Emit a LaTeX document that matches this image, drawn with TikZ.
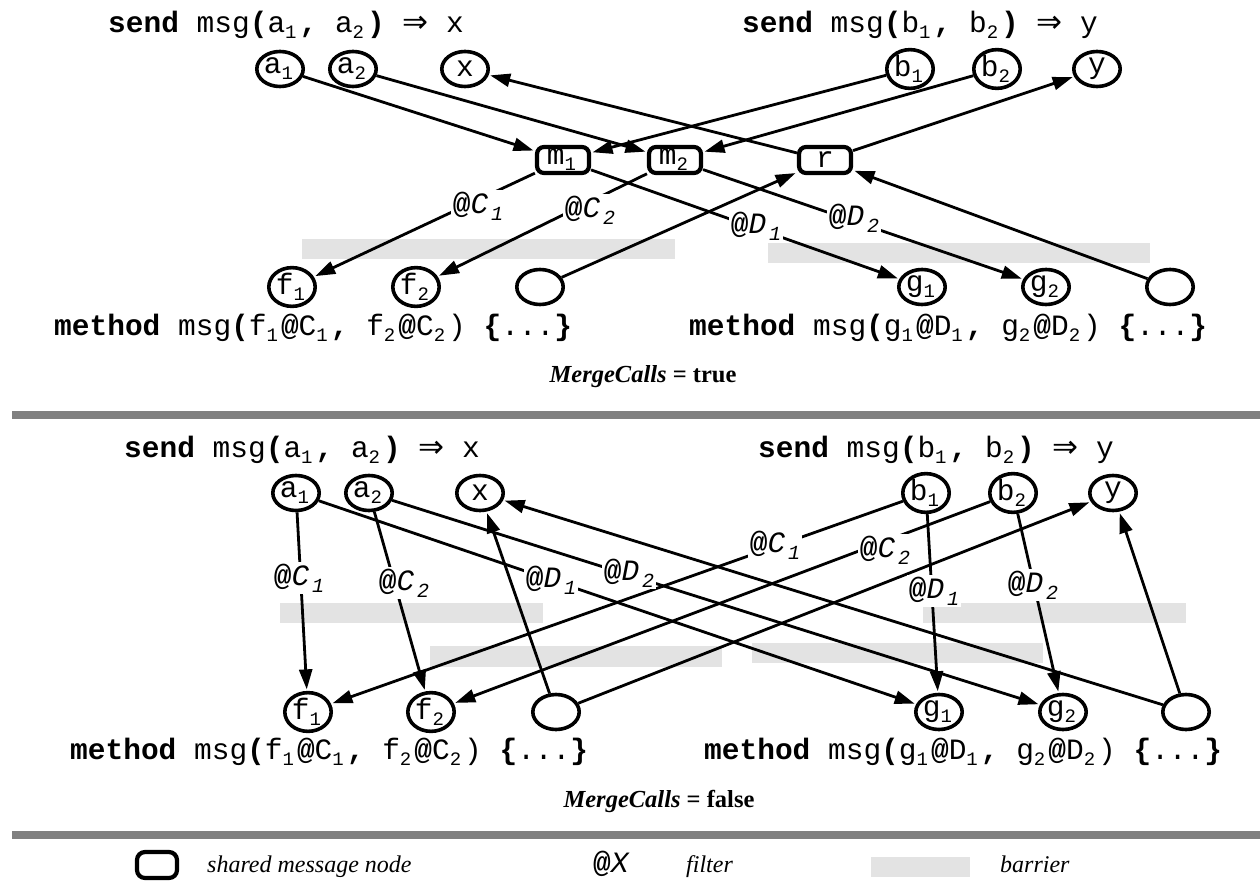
\documentclass[tikz,border=0pt]{standalone}
\usepackage{fontspec}
\setmainfont{Liberation Serif}
\newfontfamily\codefont{Liberation Mono}
\newfontfamily\symfont{DejaVu Sans}
\usetikzlibrary{arrows.meta,shapes.geometric}

% lowered, smaller index in the current font
\newcommand\sbs[1]{\raisebox{-6pt}{\fontsize{19}{19}\selectfont #1}\kern3pt}
\newcommand\code{\fontsize{29.5}{34}\selectfont\codefont}
\newcommand\yields{{\symfont\fontsize{31}{34}\selectfont ⇒}}
\newcommand\filter[2]{{\bfseries @}{\itshape #1\hspace{3pt}\raisebox{-7pt}{\fontsize{20}{20}\selectfont #2}}}

\tikzset{
  port/.style={ellipse, draw, line width=3.6pt, minimum width=46.4pt,
    minimum height=35pt, inner sep=0pt, font=\code},
  shared/.style={rectangle, rounded corners=7pt, draw, line width=4.2pt,
    minimum width=52pt, minimum height=26pt, inner sep=0pt, font=\code},
  wire/.style={line width=2.8pt},
  arr/.style={wire, shorten >=1.5pt, -{Triangle[length=20pt,width=13pt]}},
  filt/.style={font=\code, fill=white, inner sep=1.5pt},
  barrierfill/.style={fill=black!11},
  sepbar/.style={fill=black!50},
  sig/.style={font=\code, anchor=base west, inner sep=0pt},
  caption/.style={font=\fontsize{24.5}{28}\selectfont, anchor=base, inner sep=0pt},
  keytext/.style={font=\fontsize{24}{28}\selectfont\itshape, anchor=base west, inner sep=0pt},
}

\begin{document}
\begin{tikzpicture}[x=1pt,y=-1pt]
\useasboundingbox (0,0) rectangle (1260,882);

% ---------- separators ----------
\fill[sepbar] (12,411) rectangle (1260,419);
\fill[sepbar] (12,831) rectangle (1260,839);

% ---------- barriers ----------
\fill[barrierfill] (302,239) rectangle (675,259);
\fill[barrierfill] (768,243) rectangle (1150,263);
\fill[barrierfill] (280,603) rectangle (543,623);
\fill[barrierfill] (430,646) rectangle (722,667);
\fill[barrierfill] (923,603) rectangle (1186,623);
\fill[barrierfill] (752,643) rectangle (1043,663);

% ================= MergeCalls = true =================
\node[sig] (tsendA) at (108,33) {{\bfseries send} msg{\bfseries (}a\sbs{1}{\bfseries ,} a\sbs{2}{\bfseries )} \yields{} x};
\node[sig] (tsendB) at (742,33) {{\bfseries send} msg{\bfseries (}b\sbs{1}{\bfseries ,} b\sbs{2}{\bfseries )} \yields{} y};

\node[port] (ta1) at (280,69) {a\sbs{1}};
\node[port] (ta2) at (353,69) {a\sbs{2}};
\node[port] (tx)  at (465,69) {x};
\node[port] (tb1) at (910,69) {b\sbs{1}};
\node[port] (tb2) at (997,69) {b\sbs{2}};
\node[port] (ty)  at (1097,69) {y};

\node[shared] (tm1) at (563,160) {m\sbs{1}};
\node[shared] (tm2) at (675,160) {m\sbs{2}};
\node[shared] (tr)  at (825,160) {r};

\node[port] (tf1) at (292,287) {f\sbs{1}};
\node[port] (tf2) at (416,287) {f\sbs{2}};
\node[port] (tu)  at (540,287) {};
\node[port] (tg1) at (922,287) {g\sbs{1}};
\node[port] (tg2) at (1046,287) {g\sbs{2}};
\node[port] (tv)  at (1170,287) {};

\node[sig] (tmethA) at (54,335) {{\bfseries method} msg{\bfseries (}f\sbs{1}{\bfseries @}C\sbs{1}{\bfseries ,} f\sbs{2}{\bfseries @}C\sbs{2}) {\bfseries\{}...{\bfseries\}}};
\node[sig] (tmethB) at (689,335) {{\bfseries method} msg{\bfseries (}g\sbs{1}{\bfseries @}D\sbs{1}{\bfseries ,} g\sbs{2}{\bfseries @}D\sbs{2}) {\bfseries\{}...{\bfseries\}}};

\draw[arr] (ta1) -- (tm1);
\draw[arr] (ta2) -- (tm2);
\draw[arr] (tb1) -- (tm1);
\draw[arr] (tb2) -- (tm2);
\draw[arr] (tr) -- (tx);
\draw[arr] (tr) -- (ty);
\draw[arr] (tm1) -- (tf1);
\draw[arr] (tm2) -- (tf2);
\draw[arr] (tm1) -- (tg1);
\draw[arr] (tm2) -- (tg2);
\draw[arr] (tu) -- (tr);
\draw[arr] (tv) -- (tr);

\node[filt] (tC1) at (478,206) {\filter{C}{1}};
\node[filt] (tC2) at (590,210) {\filter{C}{2}};
\node[filt] (tD1) at (756,226) {\filter{D}{1}};
\node[filt] (tD2) at (854,218) {\filter{D}{2}};

\node[caption] (tcap) at (643,382) {\textbf{\textit{MergeCalls}} \textbf{=} \textbf{true}};

% ================= MergeCalls = false =================
\node[sig] (bsendA) at (124,457) {{\bfseries send} msg{\bfseries (}a\sbs{1}{\bfseries ,} a\sbs{2}{\bfseries )} \yields{} x};
\node[sig] (bsendB) at (758,457) {{\bfseries send} msg{\bfseries (}b\sbs{1}{\bfseries ,} b\sbs{2}{\bfseries )} \yields{} y};

\node[port] (ba1) at (296,493) {a\sbs{1}};
\node[port] (ba2) at (369,493) {a\sbs{2}};
\node[port] (bx)  at (480,493) {x};
\node[port] (bb1) at (926,493) {b\sbs{1}};
\node[port] (bb2) at (1013,493) {b\sbs{2}};
\node[port] (by)  at (1113,493) {y};

\node[port] (bf1) at (308,712) {f\sbs{1}};
\node[port] (bf2) at (431,712) {f\sbs{2}};
\node[port] (bu)  at (556,712) {};
\node[port] (bg1) at (939,712) {g\sbs{1}};
\node[port] (bg2) at (1063,712) {g\sbs{2}};
\node[port] (bv)  at (1186,712) {};

\node[sig] (bmethA) at (70,759) {{\bfseries method} msg{\bfseries (}f\sbs{1}{\bfseries @}C\sbs{1}{\bfseries ,} f\sbs{2}{\bfseries @}C\sbs{2}) {\bfseries\{}...{\bfseries\}}};
\node[sig] (bmethB) at (704,759) {{\bfseries method} msg{\bfseries (}g\sbs{1}{\bfseries @}D\sbs{1}{\bfseries ,} g\sbs{2}{\bfseries @}D\sbs{2}) {\bfseries\{}...{\bfseries\}}};

\draw[arr] (ba1) -- (bf1);
\draw[arr] (ba2) -- (bf2);
\draw[arr] (ba1) -- (bg1);
\draw[arr] (ba2) -- (bg2);
\draw[arr] (bb1) -- (bf1);
\draw[arr] (bb2) -- (bf2);
\draw[arr] (bb1) -- (bg1);
\draw[arr] (bb2) -- (bg2);
\draw[arr] (bu) -- (bx);
\draw[arr] (bu) -- (by);
\draw[arr] (bv) -- (bx);
\draw[arr] (bv) -- (by);

\node[filt] (bC1)  at (299,578) {\filter{C}{1}};
\node[filt] (bC2)  at (404,583) {\filter{C}{2}};
\node[filt] (bD1)  at (551,580) {\filter{D}{1}};
\node[filt] (bD2)  at (629,573) {\filter{D}{2}};
\node[filt] (bC1r) at (775,545) {\filter{C}{1}};
\node[filt] (bC2r) at (885,550) {\filter{C}{2}};
\node[filt] (bD1r) at (934,591) {\filter{D}{1}};
\node[filt] (bD2r) at (1033,585) {\filter{D}{2}};

\node[caption] (bcap) at (659,807) {\textbf{\textit{MergeCalls}} \textbf{=} \textbf{false}};

% ================= key =================
\node[shared, minimum width=40pt, minimum height=26pt, rounded corners=8pt] (keybox) at (157,865) {};
\node[keytext] (keyshared) at (207,872) {shared message node};
\node[sig] (keyfilt) at (593,872) {{\bfseries @}{\itshape X}};
\node[keytext] (keyfilttext) at (686,872) {filter};
\fill[barrierfill] (871,857) rectangle (970,877);
\node[keytext] (keybar) at (1000,872) {barrier};
\end{tikzpicture}
\end{document}
